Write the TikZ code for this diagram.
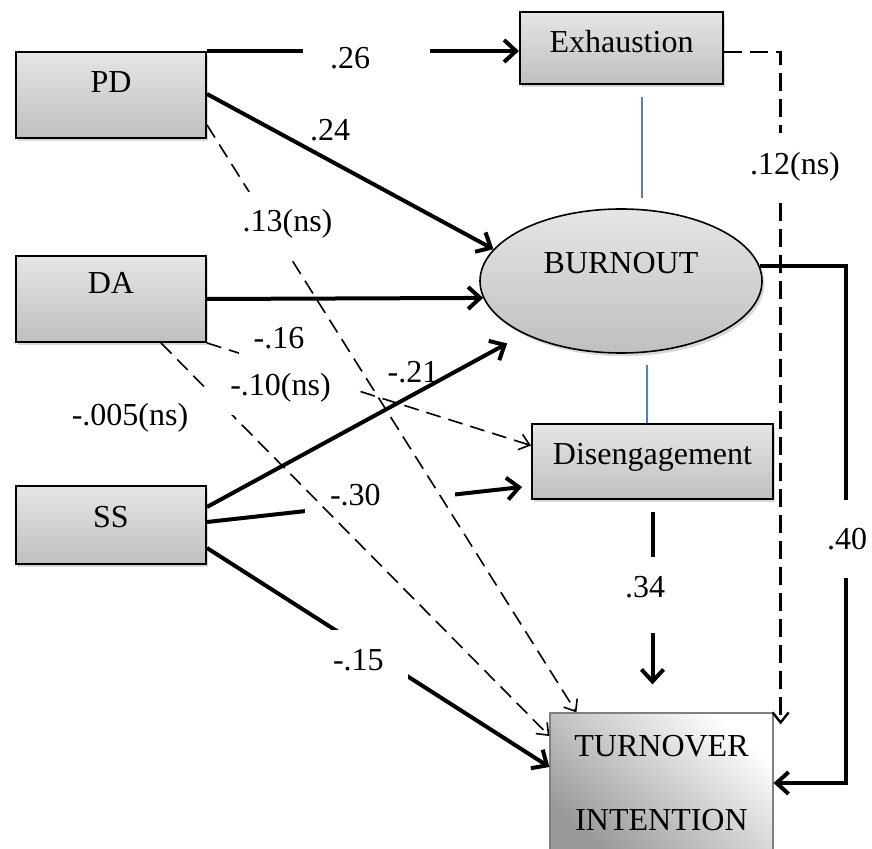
\documentclass[tikz,border=0pt]{standalone}
\usepackage{fontspec}
\setmainfont{Liberation Serif}
\usetikzlibrary{arrows.meta,shapes.geometric,shadows}
\definecolor{linkblue}{RGB}{79,129,189}
\begin{document}
\begin{tikzpicture}[x=0.5pt,y=-0.5pt,font=\fontsize{16}{19}\selectfont,
	box/.style={draw,line width=1pt,rectangle,top color=gray!20,bottom color=gray!50,drop shadow={shadow xshift=1.2pt,shadow yshift=-1.6pt,opacity=0.3},text height=11pt},
	sigarrow/.style={line width=2pt,-{Straight Barb[length=6pt,width=11pt]}},
	nsarrow/.style={line width=0.8pt,dash pattern=on 7.5pt off 4pt,-{Straight Barb[length=5pt,width=8pt]}},
	gap/.style={fill=white,inner sep=0pt,align=left},
	link/.style={draw=linkblue,line width=0.6pt}]
	\useasboundingbox (0,0) rectangle (872,849);
	\foreach \n/\t/\y/\h/\d in {pd/PD/95/43pt/13.4pt,da/DA/299/43pt/16.4pt,ss/SS/525/39pt/8.4pt}{
		\node[box,minimum width=95pt,minimum height=\h,text depth=\d] (\n) at (111,\y) {\t};
	}
	\node[box,minimum width=101.5pt,minimum height=36pt,text depth=6.4pt] (exh) at (621.5,48) {Exhaustion};
	\node[box,ellipse,line width=0.8pt,minimum width=141pt,minimum height=72pt,text depth=18.4pt] (bo) at (621,281) {BURNOUT};
	\node[box,minimum width=120.5pt,minimum height=37.5pt,text depth=7.9pt] (dis) at (652.5,461.5) {Disengagement};
	\node[draw=gray,line width=0.6pt,minimum width=111.5pt,minimum height=70pt,align=center,top color=white,bottom color=black!40,shading angle=-40] (ti) at (661.5,783) {TURNOVER\\[18pt]INTENTION};
	\draw[link] ([xshift=10.25pt,yshift=-6pt]exh.south) -- ([xshift=10.25pt,yshift=5pt]exh.south |- bo.north);
	\draw[link] ([xshift=13pt,yshift=-5.5pt]bo.south) -- ([xshift=13pt]bo.south |- dis.north);
	\draw[sigarrow] (pd.north east) -- (pd.north east -| exh.west);
	\draw[sigarrow] ([yshift=0.5pt]pd.east) -- (bo.166);
	\draw[sigarrow] (da.east) -- (bo.187);
	\draw[sigarrow] ([yshift=9pt]ss.east) -- ([xshift=-8.75pt,yshift=-4.5pt]bo.209);
	\draw[sigarrow] ([yshift=1.5pt]ss.east) -- ([xshift=-4.5pt,yshift=-12.75pt]dis.west);
	\draw[sigarrow] ([yshift=-11.5pt]ss.east) -- ([yshift=8pt]ti.west);
	\draw[sigarrow] ([yshift=-6pt]dis.south) -- ([yshift=14pt]dis.south |- ti.north);
	\draw[sigarrow] (bo.6) -| ([xshift=36pt]ti.east) -- (ti.east);
	\node[gap,text width=63.5pt,minimum height=20pt] (l26) at (366.5,58) {\hspace*{13.5pt}.26};
	\node[gap,text width=75pt,minimum height=22pt] (l30) at (380,495) {\hspace*{12.5pt}-.30};
	\node[gap,text width=39pt,minimum height=30pt] (l15) at (369,660) {\hspace*{1.5pt}-.15};
	\node[gap,minimum width=30pt,minimum height=38pt,text height=11pt,text depth=8.4pt] (l34) at (645,595) {.34};
	\node[gap,minimum width=24pt,minimum height=39pt] (l40) at (847,539) {.40};
	\draw[nsarrow] (da.south east) -- ([yshift=8pt]dis.west);
	\draw[nsarrow] ([xshift=25pt]da.south) -- ([yshift=23.5pt]ti.west);
	\node[gap,minimum width=40pt,minimum height=22pt] (l16) at (279,338) {-.16};
	\node[gap,minimum width=72pt,minimum height=27.5pt] (l10) at (280.5,387.5) {-.10(ns)};
	\draw[nsarrow] ([yshift=7pt]pd.south east) -- ([xshift=13.5pt]ti.north west);
	\draw[nsarrow,line width=1.2pt,dash pattern=on 9pt off 4pt] ([yshift=-2pt]exh.east) -| ([xshift=3.5pt,yshift=-6pt]ti.north east);
	\node[gap,minimum width=47.5pt,minimum height=31.5pt] (l13) at (287.5,223.5) {.13(ns)};
	\node[gap,minimum width=45pt,minimum height=33.5pt] (l12) at (795,166.5) {.12(ns)};
	\node (l24) at (330,130) {.24};
	\node (l21) at (413,372) {-.21};
	\node (l005) at (130,418) {-.005(ns)};
\end{tikzpicture}
\end{document}
